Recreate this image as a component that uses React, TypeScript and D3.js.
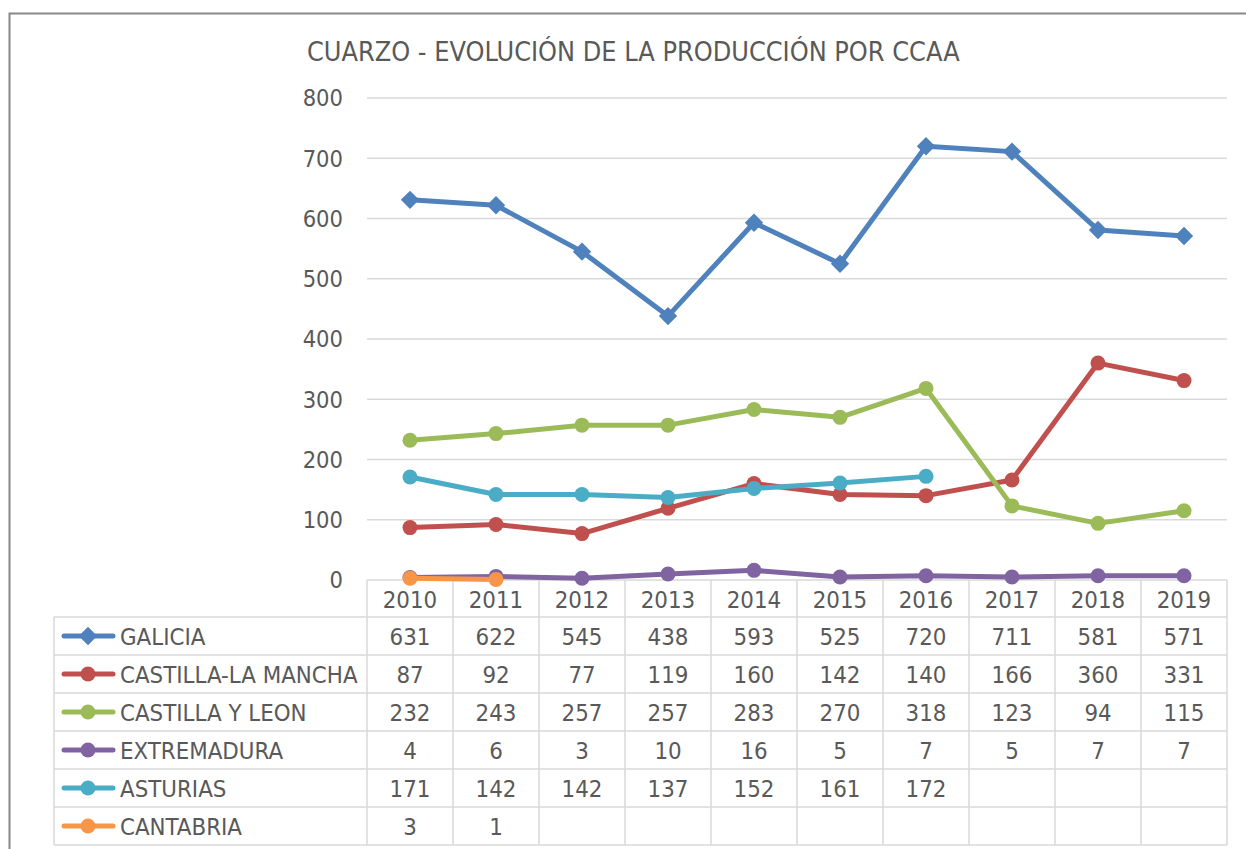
import * as d3 from 'd3';

const years = ['2010', '2011', '2012', '2013', '2014', '2015', '2016', '2017', '2018', '2019'];
const regions = ['GALICIA', 'CASTILLA-LA MANCHA', 'CASTILLA Y LEON', 'EXTREMADURA', 'ASTURIAS', 'CANTABRIA'];
const galicia = [631, 622, 545, 438, 593, 525, 720, 711, 581, 571];
const castillaLaMancha = [87, 92, 77, 119, 160, 142, 140, 166, 360, 331];
const castillaYLeon = [232, 243, 257, 257, 283, 270, 318, 123, 94, 115];
const extremadura = [4, 6, 3, 10, 16, 5, 7, 5, 7, 7];
const asturias = [171, 142, 142, 137, 152, 161, 172, null, null, null];
const cantabria = [3, 1, null, null, null, null, null, null, null, null];
const yTicks = [0, 100, 200, 300, 400, 500, 600, 700, 800];
const colors = ['#4F81BD', '#C0504D', '#9BBB59', '#8064A2', '#4BACC6', '#F79646'];

const series = [galicia, castillaLaMancha, castillaYLeon, extremadura, asturias, cantabria];

const W = 1246;
const H = 849;
const plot = { left: 367, right: 1227, top: 98, bottom: 580 };
const tableLeft = 54;
const rowH = 38;
const font = '"DejaVu Sans Condensed", "DejaVu Sans", sans-serif';
const textColor = '#595959';
const gridColor = '#D9D9D9';

export default function App() {
  const x = d3.scaleBand().domain(years).range([plot.left, plot.right]);
  const y = d3.scaleLinear().domain([0, 800]).range([plot.bottom, plot.top]);
  const cx = (yr: string) => (x(yr) as number) + x.bandwidth() / 2;

  const line = d3
    .line<number | null>()
    .defined((d) => d !== null)
    .x((_, i) => cx(years[i]))
    .y((d) => y(d as number));

  const headerBottom = plot.bottom + 37;
  const rowTop = (i: number) => headerBottom + i * rowH;
  const tableBottom = rowTop(regions.length);

  const marker = (si: number, px: number, py: number, key: string) =>
    si === 0 ? (
      <rect key={key} x={px - 6.5} y={py - 6.5} width={13} height={13} fill={colors[si]} transform={`rotate(45 ${px} ${py})`} />
    ) : (
      <circle key={key} cx={px} cy={py} r={7.5} fill={colors[si]} />
    );

  return (
    <svg width={W} height={H} style={{ position: 'absolute', left: 0, top: 0, background: '#fff' }} fontFamily={font}>
      <rect x={0} y={0} width={W} height={H} fill="#fff" />
      {/* outer frame */}
      <path d={`M9.5,${H} V13.5 H${W}`} fill="none" stroke="#888" strokeWidth={2} />

      <text x={307} y={61} fontSize={26.8} fill={textColor}>
        CUARZO - EVOLUCIÓN DE LA PRODUCCIÓN POR CCAA
      </text>

      {/* grid + y ticks */}
      {yTicks.map((t) => (
        <g key={t}>
          <line x1={plot.left} x2={plot.right} y1={y(t)} y2={y(t)} stroke={gridColor} strokeWidth={1.5} />
          <text x={343} y={y(t)} dy="0.36em" textAnchor="end" fontSize={23.5} fill={textColor}>
            {t}
          </text>
        </g>
      ))}

      {/* data table */}
      <g stroke={gridColor} strokeWidth={1.5}>
        {d3.range(years.length + 1).map((i) => (
          <line key={'v' + i} x1={plot.left + i * x.bandwidth()} x2={plot.left + i * x.bandwidth()} y1={plot.bottom} y2={tableBottom} />
        ))}
        <line x1={tableLeft} x2={tableLeft} y1={headerBottom} y2={tableBottom} />
        {d3.range(regions.length + 1).map((i) => (
          <line key={'h' + i} x1={tableLeft} x2={plot.right} y1={rowTop(i)} y2={rowTop(i)} />
        ))}
      </g>
      {years.map((yr) => (
        <text key={yr} x={cx(yr)} y={(plot.bottom + headerBottom) / 2 + 1} dy="0.36em" textAnchor="middle" fontSize={23.8} fill={textColor}>
          {yr}
        </text>
      ))}
      {regions.map((r, ri) => {
        const ym = rowTop(ri) + rowH / 2;
        return (
          <g key={r}>
            <line x1={64} x2={113} y1={ym} y2={ym} stroke={colors[ri]} strokeWidth={5} strokeLinecap="round" />
            {marker(ri, 88, ym, 'm')}
            <text x={120} y={ym} dy="0.36em" fontSize={23.8} fill={textColor}>
              {r}
            </text>
            {series[ri].map((v, i) =>
              v === null ? null : (
                <text key={i} x={cx(years[i])} y={ym} dy="0.36em" textAnchor="middle" fontSize={23.8} fill={textColor}>
                  {v}
                </text>
              )
            )}
          </g>
        );
      })}

      {/* series */}
      {series.map((s, si) => (
        <g key={regions[si]}>
          <path d={line(s) as string} fill="none" stroke={colors[si]} strokeWidth={5} strokeLinejoin="round" strokeLinecap="round" />
          {s.map((v, i) => (v === null ? null : marker(si, cx(years[i]), y(v), 'p' + i)))}
        </g>
      ))}
    </svg>
  );
}
